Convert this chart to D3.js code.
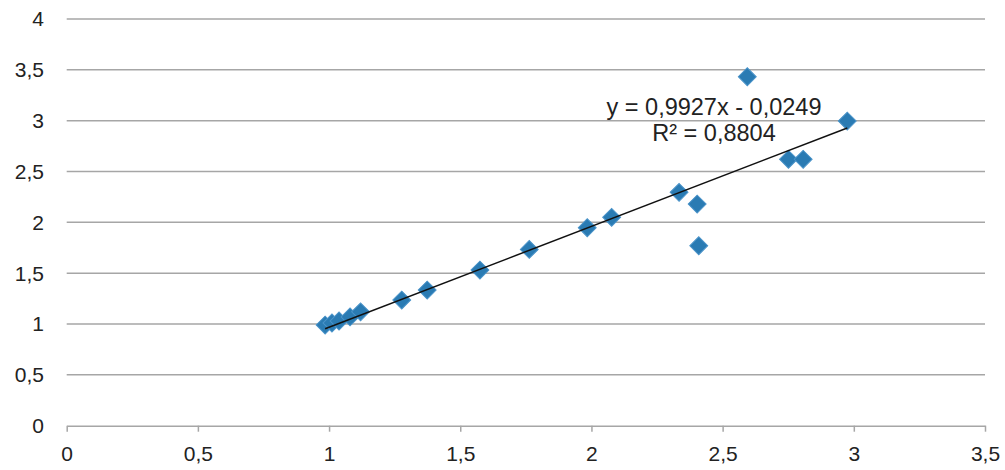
<!DOCTYPE html>
<html>
<head>
<meta charset="utf-8">
<script src="https://cdn.jsdelivr.net/npm/d3@7"></script>
<style>
  body { margin: 0; background: #fff; }
  svg text { font-family: "Liberation Sans", Arial, sans-serif; fill: #222; }
</style>
</head>
<body>
<svg id="chart" width="1005" height="470"></svg>
<script>
// measured points (x, y)
const xValues = [0.985, 1.011, 1.038, 1.08, 1.12, 1.277, 1.374, 1.575, 1.763, 1.984, 2.077, 2.334, 2.403, 2.409, 2.594, 2.751, 2.807, 2.975];
const yValues = [0.99, 1.01, 1.03, 1.07, 1.12, 1.236, 1.334, 1.531, 1.734, 1.947, 2.049, 2.295, 2.18, 1.77, 3.432, 2.62, 2.62, 2.996];
const xTicks = [0, 0.5, 1, 1.5, 2, 2.5, 3, 3.5];
const yTicks = [0, 0.5, 1, 1.5, 2, 2.5, 3, 3.5, 4];
const slope = 0.9927, intercept = -0.0249;
const eqLines = ["y = 0,9927x - 0,0249", "R² = 0,8804"];

const svg = d3.select("#chart");
const x = d3.scaleLinear().domain([0, 3.5]).range([66.7, 985]);
const y = d3.scaleLinear().domain([0, 4]).range([425.7, 19]);
const fmt = d => String(d).replace(".", ",");

// horizontal gridlines
svg.append("g").selectAll("line").data(yTicks.filter(d => d > 0)).join("line")
    .attr("x1", x(0)).attr("x2", x(3.5))
    .attr("y1", d => y(d)).attr("y2", d => y(d))
    .attr("stroke", "#a6a6a6").attr("stroke-width", 1.5);

// y labels
svg.append("g").selectAll("text").data(yTicks).join("text")
    .attr("x", 44).attr("y", d => y(d))
    .attr("dy", "0.35em")
    .attr("text-anchor", "end")
    .style("font-size", "21px")
    .text(fmt);

// x axis
const xAxis = svg.append("g")
    .attr("transform", "translate(0," + y(0) + ")")
    .call(d3.axisBottom(x).tickValues(xTicks).tickFormat(fmt).tickSize(6).tickPadding(14).tickSizeOuter(0));
xAxis.select(".domain").attr("stroke", "#a6a6a6").attr("stroke-width", 1.5);
xAxis.selectAll(".tick line").attr("stroke", "#a6a6a6").attr("stroke-width", 1.5);
xAxis.selectAll(".tick text").style("font-size", "21px").attr("fill", "#222")
    .style("font-family", "'Liberation Sans', Arial, sans-serif");

// points
const pts = xValues.map((v, i) => ({x: v, y: yValues[i]}));
const diamond = d3.symbol().type(d3.symbolSquare).size(160);
svg.append("g").selectAll("path").data(pts).join("path")
    .attr("d", diamond)
    .attr("transform", d => "translate(" + x(d.x) + "," + y(d.y) + ") rotate(45)")
    .attr("fill", "#2a7bb3")
    .attr("stroke", "#4a93c9")
    .attr("stroke-width", 1);

// trendline
const xMin = d3.min(xValues), xMax = d3.max(xValues);
svg.append("line")
    .attr("x1", x(xMin)).attr("y1", y(slope * xMin + intercept))
    .attr("x2", x(xMax)).attr("y2", y(slope * xMax + intercept))
    .attr("stroke", "#111").attr("stroke-width", 1.5);

// equation
svg.append("g").selectAll("text").data(eqLines).join("text")
    .attr("x", 714).attr("y", (d, i) => 115 + i * 26)
    .attr("text-anchor", "middle")
    .style("font-size", "23.5px")
    .text(d => d);
</script>
</body>
</html>
